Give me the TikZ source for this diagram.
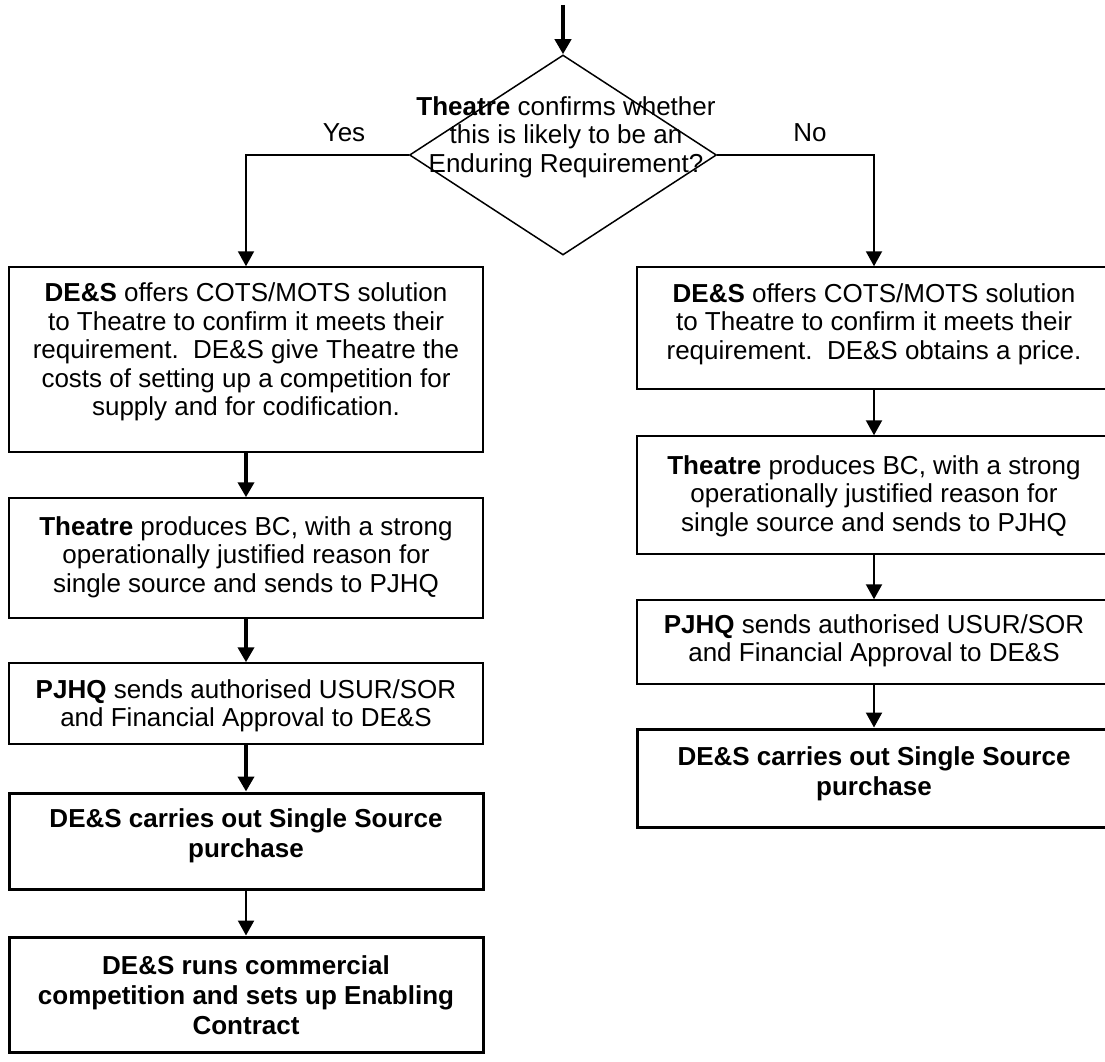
\documentclass[tikz,border=0pt]{standalone}
\usepackage{fontspec}
\setmainfont{Liberation Sans}
\usetikzlibrary{arrows.meta,shapes.geometric}
\begin{document}
\begin{tikzpicture}[x=1pt,y=-1pt,
  box/.style={draw=black, line width=1.5pt, minimum width=474pt, inner sep=0pt},
  boldbox/.style={box, line width=3pt},
  txt/.style={align=center, font=\fontsize{26}{28.5}\selectfont, inner sep=0pt},
  btxt/.style={align=center, font=\fontsize{26}{30}\selectfont\bfseries, inner sep=0pt},
  flow/.style={-{Triangle[length=15pt,width=16pt]}, line width=4pt},
  thinflow/.style={-{Triangle[length=15pt,width=16pt]}, line width=2.2pt},
  branch/.style={-{Triangle[length=15pt,width=16pt]}, line width=2pt}
]
\useasboundingbox (0,0) rectangle (1105,1062);
\clip (0,0) rectangle (1105,1062);

% decision
\coordinate (start) at (563,5);
\node[draw, diamond, line width=1.5pt, minimum width=307pt, minimum height=200pt, inner sep=0pt] (dec) at (563,155) {};
\node[txt] (dect) at (566,137) {\textbf{Theatre} confirms whether\\ this is likely to be an\\ Enduring Requirement?};
\node[txt] (yes) at (344,133) {Yes};
\node[txt] (no) at (810,133) {No};

% left column: enduring requirement
\node[box, minimum height=185pt] (L1) at (246,359.5) {};
\node[txt] (L1t) at (246,352) {\textbf{DE\&S} offers COTS/MOTS solution\\ to Theatre to confirm it meets their\\ requirement.\ \ DE\&S give Theatre the\\ costs of setting up a competition for\\ supply and for codification.};
\node[box, minimum height=120pt] (L2) at (246,558) {};
\node[txt] (L2t) at (246,557) {\textbf{Theatre} produces BC, with a strong\\ operationally justified reason for\\ single source and sends to PJHQ};
\node[box, minimum height=81pt] (L3) at (246,703.5) {};
\node[txt] (L3t) at (246,706) {\textbf{PJHQ} sends authorised USUR/SOR\\ and Financial Approval to DE\&S};
\node[boldbox, minimum height=96pt] (L4) at (246,841) {};
\node[btxt] (L4t) at (246,836) {DE\&S carries out Single Source\\ purchase};
\node[boldbox, minimum height=115pt] (L5) at (246,994.5) {};
\node[btxt] (L5t) at (246,995) {DE\&S runs commercial\\ competition and sets up Enabling\\ Contract};

% right column: not enduring
\node[box, minimum height=122pt] (R1) at (874,328) {};
\node[txt] (R1t) at (874,324) {\textbf{DE\&S} offers COTS/MOTS solution\\ to Theatre to confirm it meets their\\ requirement.\ \ DE\&S obtains a price.};
\node[box, minimum height=118pt] (R2) at (874,495) {};
\node[txt] (R2t) at (874,496) {\textbf{Theatre} produces BC, with a strong\\ operationally justified reason for\\ single source and sends to PJHQ};
\node[box, minimum height=84pt] (R3) at (874,642) {};
\node[txt] (R3t) at (874,641) {\textbf{PJHQ} sends authorised USUR/SOR\\ and Financial Approval to DE\&S};
\node[boldbox, minimum height=98pt] (R4) at (874,778) {};
\node[btxt] (R4t) at (874,774) {DE\&S carries out Single Source\\ purchase};

% connectors
\draw[flow] (start) -- (dec.north);
\draw[branch] (dec.west) -| (L1.north);
\draw[branch] (dec.east) -| (R1.north);
\draw[flow] (L1) -- (L2);
\draw[flow] (L2) -- (L3);
\draw[flow] (L3) -- (L4);
\draw[thinflow] (L4) -- (L5);
\draw[thinflow] (R1) -- (R2);
\draw[thinflow] (R2) -- (R3);
\draw[thinflow] (R3) -- (R4);
\end{tikzpicture}
\end{document}
